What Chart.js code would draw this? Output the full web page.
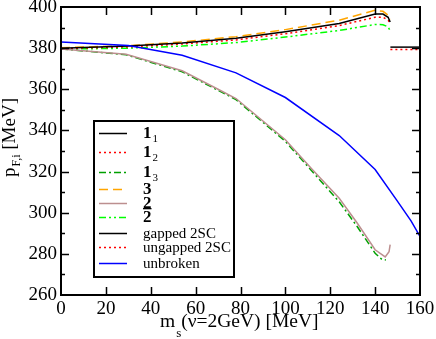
<!DOCTYPE html>
<html>
<head>
<meta charset="utf-8">
<script src="https://cdn.jsdelivr.net/npm/chart.js@4.4.1/dist/chart.umd.min.js"></script>
<style>
  html, body { margin: 0; padding: 0; background: #fff; }
  #wrap { width: 436px; height: 339px; }
</style>
</head>
<body>
<div id="wrap"><canvas id="c"></canvas></div>
<script>
// tick labels
const xTicks = [0, 20, 40, 60, 80, 100, 120, 140, 160];
const yTicks = [260, 280, 300, 320, 340, 360, 380, 400];

// upper branch (1_1, 1_2, 3, 2bar) share m_s values
const msUpper = [0, 30, 54, 78, 100, 124, 140, 143.5, 145.8, 146.7];
const p11 = [380, 381, 382.5, 384.8, 388, 392, 396.6, 396.6, 395, 392.7];
const p12 = [379.8, 380.6, 382, 384, 387, 391, 395, 395, 393.6, 392];
const p3 = [380.2, 381.2, 383, 385.6, 389, 393.6, 398.4, 397.9, 396, 394];
const p2bar = [379.5, 380, 381, 382.7, 385.4, 388.6, 391.5, 391.4, 390.3, 388.5];

// lower branch
const ms2 = [0, 29, 54, 70, 78, 100, 112, 124, 132, 140, 144.5, 146.2, 146.7];
const p2 = [379.6, 377, 369, 360, 355.5, 335.5, 321, 307, 295, 282, 278.5, 281, 284.5];
const ms13 = [0, 29, 54, 70, 78, 100, 112, 124, 132, 140, 143, 144.8];
const p13 = [379.6, 376.8, 368.5, 359.5, 355, 334.7, 320, 305.3, 293.3, 280.3, 277.3, 277];

// 2SC phase and unbroken phase
const ms2SC = [146.8, 160];
const pGapped = [380.5, 380.5];
const pUngapped = [379.4, 379.4];
const msUnbroken = [0, 30, 54, 78, 100, 124, 140, 150, 156, 160];
const pUnbroken = [383, 381.3, 376.5, 368, 356, 337.5, 321, 305.5, 296, 288.5];

const toXY = (xs, ys) => xs.map((v, i) => ({ x: v, y: ys[i] }));

// legend labels: main text (bold), subscript, overline
const legendItems = [
  { main: '1', sub: '1', bold: true },
  { main: '1', sub: '2', bold: true },
  { main: '1', sub: '3', bold: true },
  { main: '3', bold: true },
  { main: '2', bold: true },
  { main: '2', bold: true, bar: true },
  { main: 'gapped 2SC' },
  { main: 'ungapped 2SC' },
  { main: 'unbroken' }
];
const legendRowY = [133, 152, 172, 189, 203, 217, 233, 247, 263];

const ds = (label, data, color, dash, order) => ({
  label, data, borderColor: color, backgroundColor: color, borderWidth: 1.5,
  borderDash: dash || [], pointRadius: 0, tension: 0, fill: false, order: order || 0
});

const datasets = [
  ds('1_1', toXY(msUpper, p11), '#000000', null, 1),
  ds('1_2', toXY(msUpper, p12), '#ff0000', [2, 3], 2),
  ds('1_3', toXY(ms13, p13), '#00a000', [7, 3, 2, 3], 5),
  ds('3', toXY(msUpper, p3), '#ffa500', [9, 5], 3),
  ds('2', toXY(ms2, p2), '#bc8f8f', null, 4),
  ds('2bar', toXY(msUpper, p2bar), '#00ff00', [7, 3, 2, 3, 2, 3], 6),
  ds('gapped 2SC', toXY(ms2SC, pGapped), '#000000', null, 1),
  ds('ungapped 2SC', toXY(ms2SC, pUngapped), '#ff0000', [2, 3], 0),
  ds('unbroken', toXY(msUnbroken, pUnbroken), '#0000ff', null, 0)
];

const serif = '"Liberation Serif", "DejaVu Serif", serif';

const frame = {
  id: 'frame',
  afterDatasetsDraw(chart) {
    const { ctx, chartArea: a, scales: { x, y } } = chart;
    ctx.save();
    ctx.strokeStyle = '#000';
    ctx.lineWidth = 1.5;
    ctx.beginPath();
    xTicks.forEach(v => {
      if (v === xTicks[0] || v === xTicks[xTicks.length - 1]) return;
      const px = Math.round(x.getPixelForValue(v)) + 0.5;
      ctx.moveTo(px, a.bottom); ctx.lineTo(px, a.bottom - 8);
      ctx.moveTo(px, a.top); ctx.lineTo(px, a.top + 8);
    });
    for (let v = yTicks[0] + 10; v < yTicks[yTicks.length - 1]; v += 10) {
      const py = Math.round(y.getPixelForValue(v)) + 0.5;
      const len = v % 20 === 0 ? 8 : 4;
      ctx.moveTo(a.left, py); ctx.lineTo(a.left + len, py);
      ctx.moveTo(a.right, py); ctx.lineTo(a.right - len, py);
    }
    ctx.stroke();
    ctx.lineWidth = 2;
    ctx.strokeRect(a.left, a.top, a.right - a.left, a.bottom - a.top);
    ctx.restore();
  },
  afterDraw(chart) {
    const { ctx } = chart;
    ctx.save();
    ctx.fillStyle = '#000';
    ctx.textBaseline = 'alphabetic';
    ctx.textAlign = 'left';

    // x title: m_s(nu=2GeV) [MeV]
    let tx = 160;
    ctx.font = '19.5px ' + serif;
    ctx.fillText('m', tx, 327); tx += ctx.measureText('m').width + 1;
    ctx.font = '13px ' + serif;
    ctx.fillText('s', tx, 337); tx += ctx.measureText('s').width;
    ctx.font = '19.5px ' + serif;
    ctx.fillText('(\u03bd=2GeV) [MeV]', tx, 327);

    // y title: p_{F,i} [MeV], rotated
    ctx.translate(15, 177);
    ctx.rotate(-Math.PI / 2);
    let ty = 0;
    ctx.font = '19px ' + serif;
    ctx.fillText('p', ty, 0); ty += ctx.measureText('p').width + 1;
    ctx.font = '12px ' + serif;
    ctx.fillText('F,i', ty, 5); ty += ctx.measureText('F,i').width;
    ctx.font = '19px ' + serif;
    ctx.fillText(' [MeV]', ty, 0);
    ctx.setTransform(1, 0, 0, 1, 0, 0);

    // legend box
    const L = 94, T = 121, R = 234, B = 277;
    ctx.fillStyle = '#fff';
    ctx.fillRect(L, T, R - L, B - T);
    ctx.strokeStyle = '#000';
    ctx.lineWidth = 2;
    ctx.strokeRect(L, T, R - L, B - T);
    legendItems.forEach((it, i) => {
      const d = chart.data.datasets[i];
      const ly = legendRowY[i] + 0.5;
      ctx.strokeStyle = d.borderColor;
      ctx.lineWidth = d.borderWidth;
      ctx.setLineDash(d.borderDash);
      ctx.beginPath(); ctx.moveTo(99, ly); ctx.lineTo(127, ly); ctx.stroke();
      ctx.setLineDash([]);
      ctx.fillStyle = '#000';
      const base = legendRowY[i] + 5;
      let lx = 143;
      ctx.font = (it.bold ? 'bold 17px ' : '15px ') + serif;
      ctx.fillText(it.main, lx, base);
      const w = ctx.measureText(it.main).width;
      if (it.bar) {
        ctx.fillRect(lx, base - 14, w, 1.3);
      }
      if (it.sub) {
        ctx.font = '11px ' + serif;
        ctx.fillText(it.sub, lx + w + 1, base + 4);
      }
    });
    ctx.restore();
  }
};

new Chart(document.getElementById('c'), {
  type: 'line',
  data: { datasets },
  options: {
    responsive: true,
    maintainAspectRatio: false,
    animation: false,
    devicePixelRatio: 1,
    layout: { padding: { left: 0, top: 7, right: 16, bottom: 0 } },
    plugins: { legend: { display: false }, tooltip: { enabled: false } },
    scales: {
      x: {
        type: 'linear', min: xTicks[0], max: xTicks[xTicks.length - 1],
        afterBuildTicks: s => { s.ticks = xTicks.map(v => ({ value: v })); },
        afterFit: s => { s.height = 44; s.paddingLeft = 0; s.paddingRight = 0; },
        grid: { display: false, drawTicks: false },
        border: { display: false },
        ticks: { color: '#000', padding: 3, maxRotation: 0, font: { family: serif, size: 19 } }
      },
      y: {
        type: 'linear', min: yTicks[0], max: yTicks[yTicks.length - 1],
        afterBuildTicks: s => { s.ticks = yTicks.map(v => ({ value: v })); },
        afterFit: s => { s.width = 61; s.paddingTop = 0; s.paddingBottom = 0; },
        grid: { display: false, drawTicks: false },
        border: { display: false },
        ticks: { color: '#000', padding: 4, font: { family: serif, size: 19 } }
      }
    }
  },
  plugins: [frame]
});
</script>
</body>
</html>
